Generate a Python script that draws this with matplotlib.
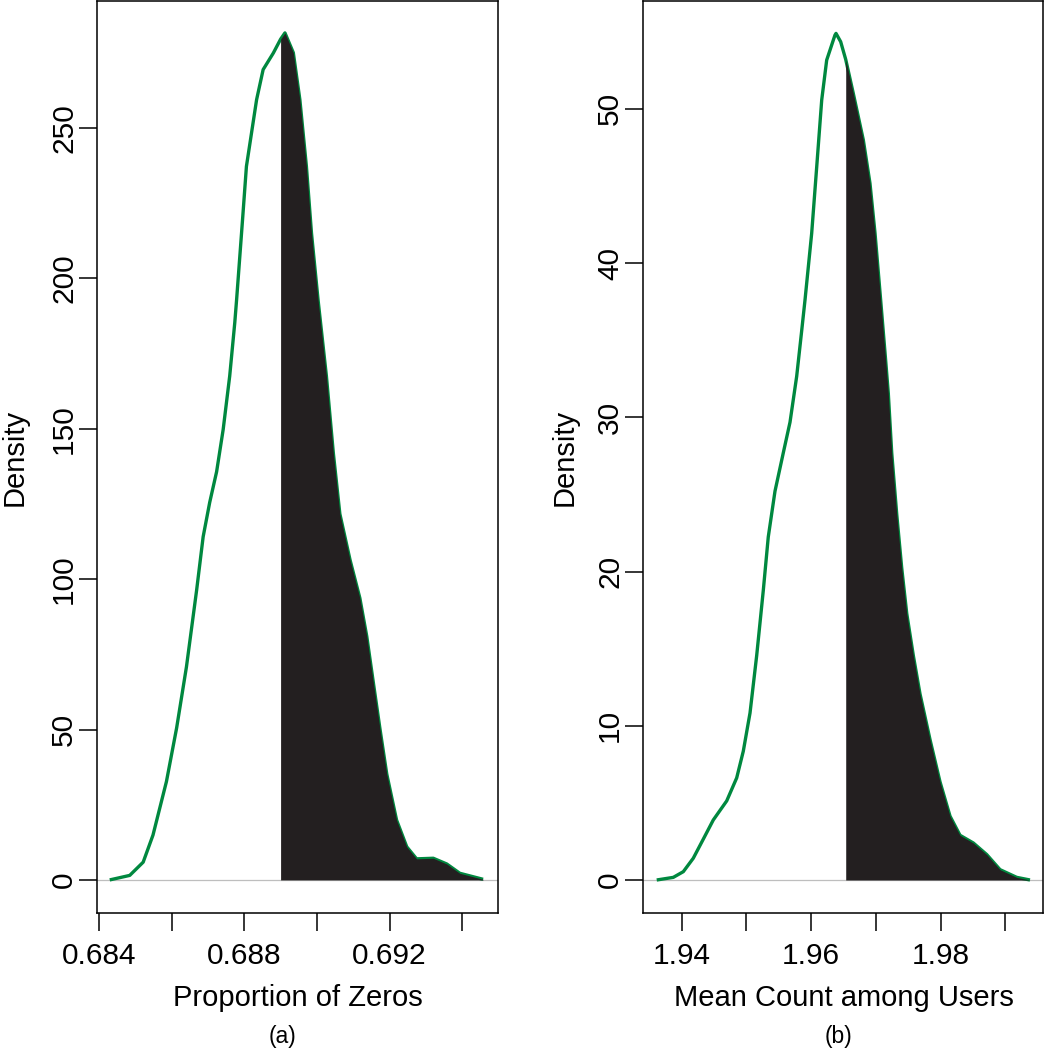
import matplotlib
matplotlib.use("Agg")
import matplotlib.pyplot as plt
import numpy as np

plt.rcParams["font.family"] = ["Liberation Sans", "DejaVu Sans"]

# panel (a): posterior predictive density of the proportion of zeros
zeros_x = [0.68430, 0.68485, 0.68522, 0.68549, 0.68586, 0.68614, 0.68641, 0.68669, 0.68687, 0.68705,
           0.68724, 0.68742, 0.68760, 0.68774, 0.68779, 0.68796, 0.68806, 0.68834, 0.68852, 0.68880,
           0.68900, 0.68912, 0.68935, 0.68953, 0.68971, 0.68985, 0.69003, 0.69026, 0.69045, 0.69063,
           0.69091, 0.69118, 0.69137, 0.69155, 0.69173, 0.69192, 0.69219, 0.69247, 0.69274, 0.69320,
           0.69357, 0.69393, 0.69457]
zeros_y = [0.0, 1.5, 5.9, 14.9, 32.7, 50.5, 70.8, 96.3, 114.1, 125.5,
           135.7, 149.7, 167.5, 185.3, 192.9, 220.6, 237.2, 259.4, 269.4, 274.9,
           279.5, 281.6, 275.0, 259.4, 237.2, 215.0, 192.9, 167.5, 142.0, 121.7,
           106.4, 93.7, 81.0, 65.7, 50.5, 35.2, 19.9, 11.0, 7.0, 7.2,
           5.3, 2.2, 0.2]
zeros_observed = 0.68900
zeros_xticks = [0.684, 0.686, 0.688, 0.690, 0.692, 0.694]
zeros_xlabels = ["0.684", "", "0.688", "", "0.692", ""]
zeros_yticks = [0, 50, 100, 150, 200, 250]

# panel (b): posterior predictive density of the mean count among users
mean_x = [1.93614, 1.93870, 1.94025, 1.94179, 1.94334, 1.94488, 1.94696, 1.94850, 1.94952, 1.95056,
          1.95159, 1.95261, 1.95338, 1.95442, 1.95570, 1.95674, 1.95777, 1.95855, 1.95906, 1.96009,
          1.96087, 1.96164, 1.96241, 1.96369, 1.96385, 1.96457, 1.96535, 1.96652, 1.96807, 1.96910,
          1.96988, 1.97075, 1.97150, 1.97193, 1.97246, 1.97323, 1.97400, 1.97478, 1.97580, 1.97683,
          1.97838, 1.97992, 1.98147, 1.98301, 1.98507, 1.98714, 1.98920, 1.99178, 1.99383]
mean_y = [0.0, 0.17, 0.54, 1.41, 2.65, 3.89, 5.13, 6.62, 8.35, 10.83,
          14.55, 18.77, 22.24, 25.21, 27.69, 29.68, 32.65, 35.63, 37.61, 41.93,
          46.25, 50.57, 53.16, 54.78, 54.89, 54.35, 53.2, 51.0, 47.98, 45.17,
          41.93, 37.6, 33.8, 31.56, 27.69, 23.73, 20.25, 17.28, 14.55, 12.07,
          9.10, 6.37, 4.14, 2.90, 2.40, 1.65, 0.67, 0.17, 0.0]
mean_observed = 1.96535
mean_xticks = [1.94, 1.95, 1.96, 1.97, 1.98, 1.99]
mean_xlabels = ["1.94", "", "1.96", "", "1.98", ""]
mean_yticks = [0, 10, 20, 30, 40, 50]

GREEN = "#00883f"
FILL = "#231f20"
W, H = 1045, 1050


def panel(ax, x, y, cut, xticks, xlabels, yticks, xlim, ylim):
    x, y = np.asarray(x), np.asarray(y)
    ax.axhline(0, color="#bebebe", lw=0.9, zorder=1)
    ax.plot(x, y, color=GREEN, lw=2.4, zorder=2, solid_joinstyle="round", solid_capstyle="butt")
    keep = x >= cut
    ax.fill_between(x[keep], y[keep], 0, color=FILL, lw=0, zorder=3)
    ax.set_xlim(*xlim)
    ax.set_ylim(*ylim)
    ax.set_xticks(xticks)
    ax.set_xticklabels(xlabels)
    ax.set_yticks(yticks)
    ax.tick_params(axis="both", direction="out", length=13, width=1.1, labelsize=21.5, color="black")
    ax.tick_params(axis="x", pad=8)
    ax.tick_params(axis="y", pad=0.5, labelrotation=90)
    for label in ax.get_yticklabels():
        label.set_va("center")
    for spine in ax.spines.values():
        spine.set_linewidth(1.1)


fig = plt.figure(figsize=(W / 100, H / 100), dpi=100)
ax_a = fig.add_axes([97 / W, 137 / H, 401 / W, 912 / H])
ax_b = fig.add_axes([643 / W, 137 / H, 400 / W, 912 / H])

panel(ax_a, zeros_x, zeros_y, zeros_observed, zeros_xticks, zeros_xlabels, zeros_yticks,
      (0.68395, 0.69498), (-11.0, 292.2))
panel(ax_b, mean_x, mean_y, mean_observed, mean_xticks, mean_xlabels, mean_yticks,
      (1.93402, 1.99584), (-2.14, 56.99))

# axis titles and panel tags, placed like the R output
fig.text(297.5 / W, 1 - 1006 / H, "Proportion of Zeros", ha="center", va="baseline", fontsize=21)
fig.text(844 / W, 1 - 1006 / H, "Mean Count among Users", ha="center", va="baseline", fontsize=21)
fig.text(283 / W, 1 - 1043 / H, "(a)", ha="center", va="baseline", fontsize=16.5)
fig.text(838 / W, 1 - 1043 / H, "(b)", ha="center", va="baseline", fontsize=16.5)
fig.text(23 / W, 1 - 457 / H, "Density", rotation=90, rotation_mode="anchor",
         ha="center", va="baseline", fontsize=21)
fig.text(573 / W, 1 - 457 / H, "Density", rotation=90, rotation_mode="anchor",
         ha="center", va="baseline", fontsize=21)

fig.savefig("out.png", dpi=100)
